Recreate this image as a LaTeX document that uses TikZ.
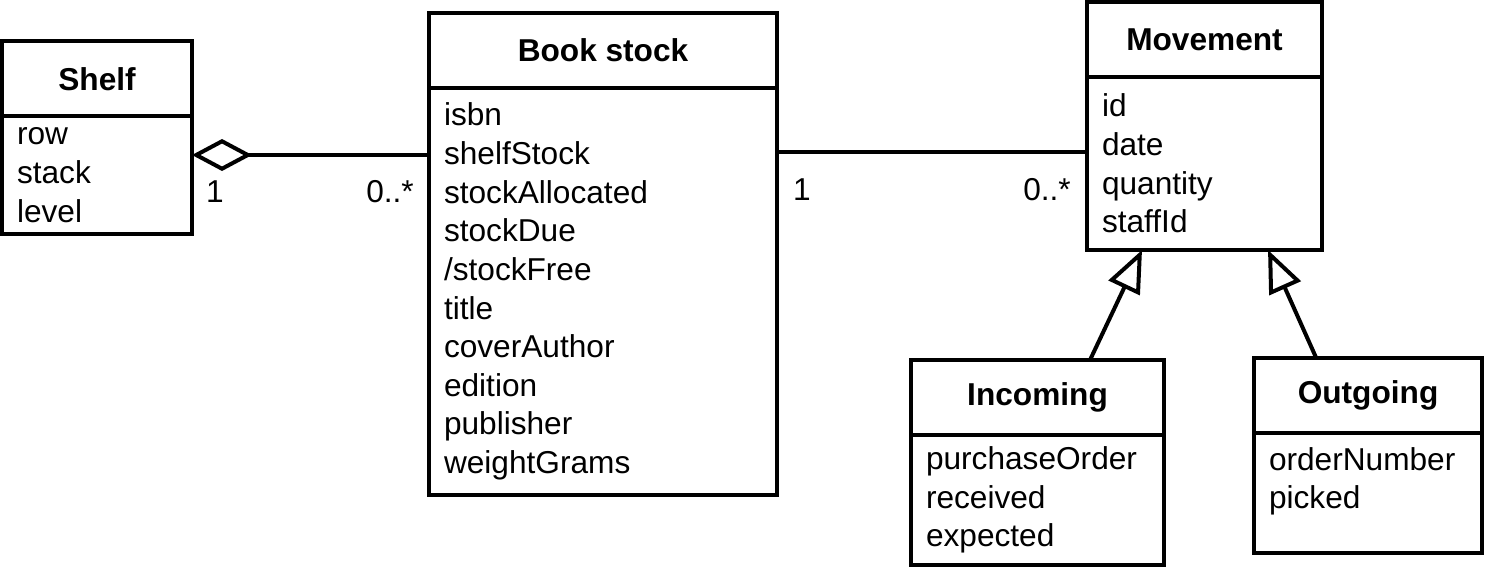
\documentclass[tikz,border=0pt]{standalone}
\usepackage{fontspec}
\setmainfont{Liberation Sans}
\usepackage{tikz}
\usetikzlibrary{positioning, arrows.meta}

\tikzset{
    classhead/.style={draw, line width=0.04cm, font=\fontsize{9}{11}\selectfont\bfseries, minimum height=0.75cm, inner sep=0pt, outer sep=0pt},
    classbody/.style={draw, line width=0.04cm, align=left, inner xsep=0.15cm, inner ysep=0pt, outer sep=0pt},
    mult/.style={inner sep=0pt},
    aggr/.style={line width=0.04cm, {Diamond[open, length=0.6cm, width=0.32cm]}-},
    gen/.style={line width=0.04cm, -{Triangle[open, length=0.42cm, width=0.34cm]}}
}

\begin{document}
\begin{tikzpicture}[font=\fontsize{9}{11}\selectfont]
    \useasboundingbox (0,0) rectangle (14.85,-5.69);
    % classes
    \node[classhead, minimum width=1.90cm] (shelf) at (0.97,-0.79) {Shelf};
    \node[classbody, text width=1.60cm, minimum height=1.17cm, below=0pt of shelf] (shelfbody) {row\\stack\\level};

    \node[classhead, minimum width=3.48cm] (book) at (6.03,-0.505) {Book stock};
    \node[classbody, text width=3.18cm, minimum height=4.07cm, below=0pt of book] (bookbody)
        {isbn\\shelfStock\\stockAllocated\\stockDue\\/stockFree\\title\\coverAuthor\\edition\\publisher\\weightGrams};

    \node[classhead, minimum width=2.35cm] (move) at (12.045,-0.395) {Movement};
    \node[classbody, text width=2.05cm, minimum height=1.73cm, below=0pt of move] (movebody) {id\\date\\quantity\\staffId};

    \node[classhead, minimum width=2.53cm] (inhead) at (10.375,-3.975) {Incoming};
    \node[classbody, text width=2.23cm, minimum height=1.30cm, below=0pt of inhead] (inbody) {purchaseOrder\\received\\expected};

    \node[classhead, minimum width=2.28cm] (outhead) at (13.68,-3.95) {Outgoing};
    \node[classbody, text width=1.98cm, minimum height=1.20cm, below=0pt of outhead] (outbody) {orderNumber\\picked\\[-0.1cm]\mbox{}};

    % associations
    \draw[aggr] (shelfbody.east |- 0,-1.55) -- (bookbody.west |- 0,-1.55);
    \node[mult] (shelfone) at (2.15,-1.92) {1};
    \node[mult] (shelfmany) at (3.90,-1.92) {0..*};
    \draw[line width=0.04cm] (bookbody.east |- 0,-1.52) -- (movebody.west |- 0,-1.52);
    \node[mult] (bookone) at (8.02,-1.90) {1};
    \node[mult] (movemany) at (10.47,-1.90) {0..*};

    % generalisation
    \draw[gen] ([xshift=0.525cm]inhead.north) -- ([xshift=-0.625cm]movebody.south);
    \draw[gen] ([xshift=-0.52cm]outhead.north) -- ([xshift=0.635cm]movebody.south);
\end{tikzpicture}
\end{document}
